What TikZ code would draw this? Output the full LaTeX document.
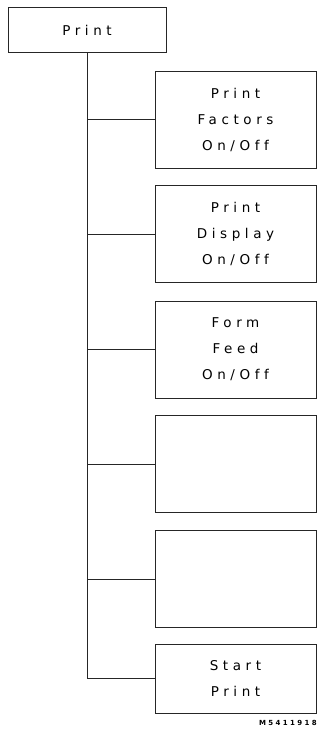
\documentclass[tikz,border=0pt]{standalone}
\usepackage{fontspec}
\setmainfont{DejaVu Sans}[LetterSpace=34, Ligatures={NoCommon}]
\usepackage{tikz}
\usetikzlibrary{positioning}

\begin{document}
\begin{tikzpicture}[
    x=1pt, y=-1pt,
    font=\fontsize{13.5}{26}\selectfont,
    menubox/.style={draw=black!85, line width=0.8pt, minimum width=158pt,
                    minimum height=45pt, align=center, inner sep=0pt},
    softkey/.style={draw=black!85, line width=0.8pt, minimum width=161pt,
                    minimum height=97pt, align=center, inner sep=0pt},
    link/.style={draw=black!85, line width=0.8pt}
]
\useasboundingbox (0,0) rectangle (320,733);

\node[menubox] (print) at (87,30) {Print};

\node[softkey] (factors) at (235.5,119.5) {Print\\Factors\\On/Off};
\node[softkey] (display) at (235.5,234) {Print\\Display\\On/Off};
\node[softkey] (formfeed) at (235.5,349.5) {Form\\Feed\\On/Off};
\node[softkey] (blankA) at (235.5,464) {};
\node[softkey] (blankB) at (235.5,579) {};
\node[softkey, minimum height=69pt] (start) at (235.5,678.5) {Start\\Print};

% trunk and branches
\draw[link] (print.south) |- (start.west);
\draw[link] (print.south |- factors.west) -- (factors.west);
\draw[link] (print.south |- display.west) -- (display.west);
\draw[link] (print.south |- formfeed.west) -- (formfeed.west);
\draw[link] (print.south |- blankA.west) -- (blankA.west);
\draw[link] (print.south |- blankB.west) -- (blankB.west);

\node[anchor=east, font=\fontsize{7}{8}\selectfont\bfseries, inner sep=0pt]
    (figno) at (317,723) {M5411918};
\end{tikzpicture}
\end{document}
